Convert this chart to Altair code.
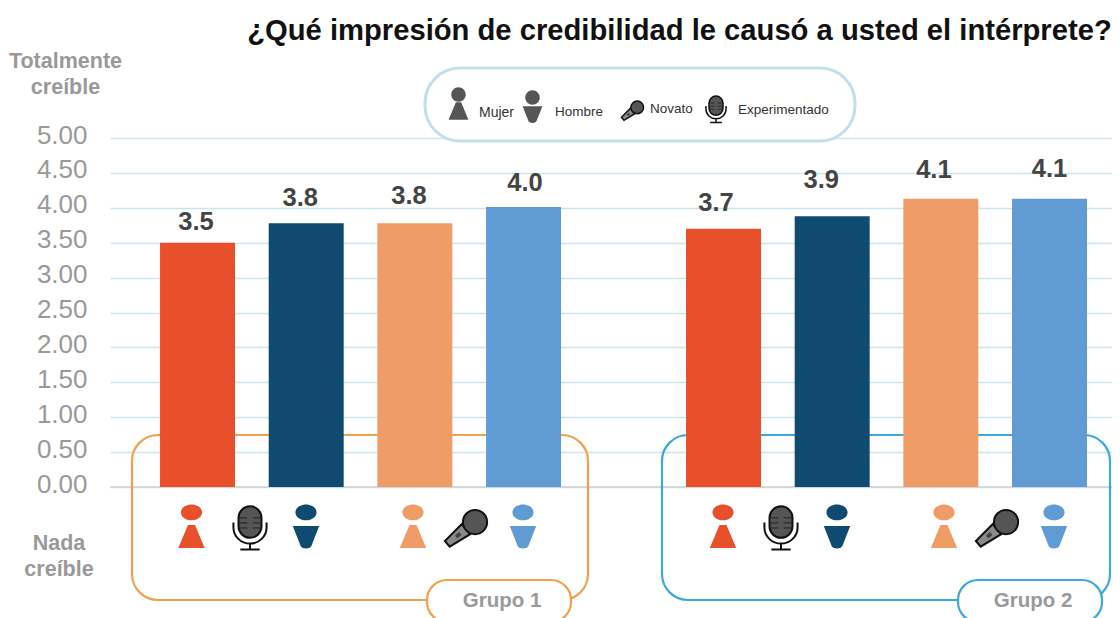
import altair as alt
import pandas as pd

grupos = ["Grupo 1", "Grupo 2"]
series = ["Mujer novata", "Hombre novato", "Mujer experimentada", "Hombre experimentado"]
valores_g1 = [3.5, 3.78, 3.78, 4.01]
valores_g2 = [3.70, 3.88, 4.13, 4.13]
colores = ["#E8502C", "#0F4A70", "#F09C68", "#619BD3"]
titulo = "¿Qué impresión de credibilidad le causó a usted el intérprete?"
ticks = [0, 0.5, 1, 1.5, 2, 2.5, 3, 3.5, 4, 4.5, 5]

FONT = "Liberation Sans"
L, T = 110, 138  # page position of the plot origin

rows = []
for g, vals in zip(grupos, [valores_g1, valores_g2]):
    for s, v in zip(series, vals):
        rows.append({"grupo": g, "serie": s, "valor": v})
df = pd.DataFrame(rows)
one = pd.DataFrame({"k": [0]})

x_enc = alt.X("grupo:N", axis=None,
              scale=alt.Scale(domain=grupos, paddingInner=0.2376, paddingOuter=0.0713, align=0.667))
xo_enc = alt.XOffset("serie:N",
                     scale=alt.Scale(domain=series, paddingInner=0.31, paddingOuter=0))
y_scale = alt.Scale(domain=[0, 5], nice=False)
y_axis = alt.Axis(values=ticks, tickCount=11, format=".2f", grid=True, gridColor="#C8E5F0", gridWidth=1.5,
                  domain=False, ticks=False, labelFont=FONT, labelFontSize=26, labelOverlap=False,
                  labelFontWeight="normal", labelColor="#999999", labelPadding=23, labelOffset=-3)
y_enc = alt.Y("valor:Q", title=None, scale=y_scale, axis=y_axis)


def px(x, y):
    return {"x": alt.value(x - L), "y": alt.value(y - T)}


def box(x0, y0, x1, y1, stroke, radius, width=2.2, fill=None):
    kw = {"fill": fill} if fill else {"fillOpacity": 0}
    return alt.Chart(one).mark_rect(cornerRadius=radius, stroke=stroke, strokeWidth=width, **kw).encode(
        x=alt.value(x0 - L), x2=alt.value(x1 - L), y=alt.value(y0 - T), y2=alt.value(y1 - T))


def label(text, x, y, size, color, weight="normal", align="center"):
    return alt.Chart(one).mark_text(text=text, font=FONT, fontSize=size, color=color, fontWeight=weight,
                                    align=align, baseline="middle").encode(**px(x, y))


def sym(path, x, y, half, fill=None, stroke=None, sw=0):
    kw = {}
    kw["fill"] = fill if fill else "transparent"
    if stroke:
        kw["stroke"] = stroke
        kw["strokeWidth"] = sw
    else:
        kw["strokeWidth"] = 0
    return alt.Chart(one).mark_point(shape=path, size=(2 * half) ** 2, opacity=1, **kw).encode(**px(x, y))


HEAD = "M-0.48,-0.64 A0.48,0.36 0 1 1 0.48,-0.64 A0.48,0.36 0 1 1 -0.48,-0.64 Z "
ROUND_HEAD = "M-0.44,-0.55 A0.44,0.44 0 1 1 0.44,-0.55 A0.44,0.44 0 1 1 -0.44,-0.55 Z "
WOMAN_BODY = "M-0.16,-0.07 L0.16,-0.07 L0.6,0.98 L-0.6,0.98 Z"
MAN_BODY = "M-0.6,-0.02 L0.6,-0.02 L0.24,0.9 Q0.18,1 0,1 Q-0.18,1 -0.24,0.9 Z"
WOMAN = HEAD + WOMAN_BODY
MAN = HEAD + MAN_BODY
CAPSULE = "M-0.5,-0.42 A0.5,0.5 0 0 1 0.5,-0.42 L0.5,-0.05 A0.5,0.5 0 0 1 -0.5,-0.05 Z"
GRILLE = "M-0.5,-0.42 L-0.12,-0.42 M0.12,-0.42 L0.5,-0.42 M-0.5,-0.2 L-0.12,-0.2 M0.12,-0.2 L0.5,-0.2 M-0.5,0.02 L-0.12,0.02 M0.12,0.02 L0.5,0.02"
STAND = "M-0.72,-0.22 L-0.72,0 A0.72,0.7 0 0 0 0.72,0 L0.72,-0.22 M0,0.7 L0,0.96 M-0.42,0.96 L0.42,0.96"
HANDLE = "M-0.19,-0.18 L0.19,0.28 L-0.74,0.85 L-0.96,0.59 Z"
RING = "M-0.5,0.34 L-0.32,0.18 L-0.2,0.32 L-0.4,0.48 Z"
HEADBALL = "M-0.14,-0.27 A0.55,0.55 0 1 1 0.96,-0.27 A0.55,0.55 0 1 1 -0.14,-0.27 Z"


def studio_mic(x, y, half, sw=2):
    return [
        sym(STAND, x, y, half, stroke="#111111", sw=sw),
        sym(CAPSULE, x, y, half, fill="#555555", stroke="#111111", sw=sw),
        sym(GRILLE, x, y, half, stroke="#222222", sw=sw * 0.5),
    ]


def hand_mic(x, y, half, sw=2):
    return [
        sym(HANDLE, x, y, half, fill="#8A8A8A", stroke="#111111", sw=sw),
        sym(RING, x, y, half, fill="#444444"),
        sym(HEADBALL, x, y, half, fill="#555555", stroke="#111111", sw=sw),
    ]


layers = []

# baseline, drawn over the grid
layers.append(alt.Chart(one).mark_rule(color="#D2D2D2", strokeWidth=1.5).encode(
    y=alt.Y(datum=0, title=None, scale=y_scale, axis=y_axis)))

# group frames behind the bars
layers.append(box(132, 435, 588, 600, "#F0A14F", 26))
layers.append(box(662, 435, 1110, 600, "#3BA9DC", 26))

# bars
layers.append(alt.Chart(df).mark_bar().encode(
    x=x_enc, xOffset=xo_enc, y=y_enc,
    color=alt.Color("serie:N", legend=None, scale=alt.Scale(domain=series, range=colores))))

# value labels, each nudged to where the reference sets it
nudges = [(-1.5, -21), (-6, -25), (-5.8, -27), (1.5, -24), (-7.5, -26), (-11, -36), (-7, -29), (0, -30)]
for i, row in df.iterrows():
    dx, dy = nudges[i]
    layers.append(alt.Chart(df.iloc[[i]]).mark_text(
        font=FONT, fontSize=25.5, fontWeight="bold", color="#444444", baseline="middle", dx=dx, dy=dy
    ).encode(x=x_enc, xOffset=xo_enc, y=y_enc, text=alt.Text("valor:Q", format=".1f")))

# pills
layers.append(box(427, 580, 571, 622, "#F0A14F", 20, fill="white"))
layers.append(box(958, 580, 1102, 622, "#3BA9DC", 20, fill="white"))
layers.append(label("Grupo 1", 502, 601, 20.5, "#999999", "bold"))
layers.append(label("Grupo 2", 1033, 601, 20.5, "#999999", "bold"))

# legend
layers.append(box(425, 68, 855, 141, "#BEE0EC", 35, width=3, fill="white"))
layers.append(sym(ROUND_HEAD + WOMAN_BODY, 458.5, 103.5, 16.5, fill="#555555"))
layers.append(sym(ROUND_HEAD + MAN_BODY, 532.5, 106.5, 16.5, fill="#555555"))
layers += hand_mic(632.5, 110.5, 11.5, sw=1.5)
layers += studio_mic(716, 109, 14, sw=1.5)
layers.append(label("Mujer", 479, 113, 14, "#333333", align="left"))
layers.append(label("Hombre", 555, 112, 13.5, "#333333", align="left"))
layers.append(label("Novato", 650, 109, 13.5, "#333333", align="left"))
layers.append(label("Experimentado", 738, 110, 13.5, "#333333", align="left"))

# side captions
layers.append(label("Totalmente", 65.5, 62, 21.5, "#999999", "bold"))
layers.append(label("creíble", 65.5, 88, 21.5, "#999999", "bold"))
layers.append(label("Nada", 59, 544, 21.5, "#999999", "bold"))
layers.append(label("creíble", 59, 570, 21.5, "#999999", "bold"))

# icons below the bars
people = [
    (WOMAN, 191.5, colores[0]), (MAN, 306, colores[1]), (WOMAN, 413, colores[2]), (MAN, 523, colores[3]),
    (WOMAN, 723, colores[0]), (MAN, 837, colores[1]), (WOMAN, 944, colores[2]), (MAN, 1054, colores[3]),
]
for path, x, c in people:
    layers.append(sym(path, x, 526.5, 22, fill=c))
for x in [250, 781]:
    layers += studio_mic(x, 527.5, 23)
for x in [466, 997]:
    layers += hand_mic(x, 528, 22)

chart = alt.layer(*layers).properties(
    width=1002, height=349,
    title=alt.TitleParams(titulo, font=FONT, fontSize=29.2, fontWeight="bold", color="#111111",
                          anchor="end", offset=5, dx=-1),
    autosize=alt.AutoSizeParams(type="none"),
    padding={"left": 102, "top": 130, "right": 0, "bottom": 131},
).configure_view(stroke=None)

chart.save("out.html", embed_options={"renderer": "svg", "actions": False})
